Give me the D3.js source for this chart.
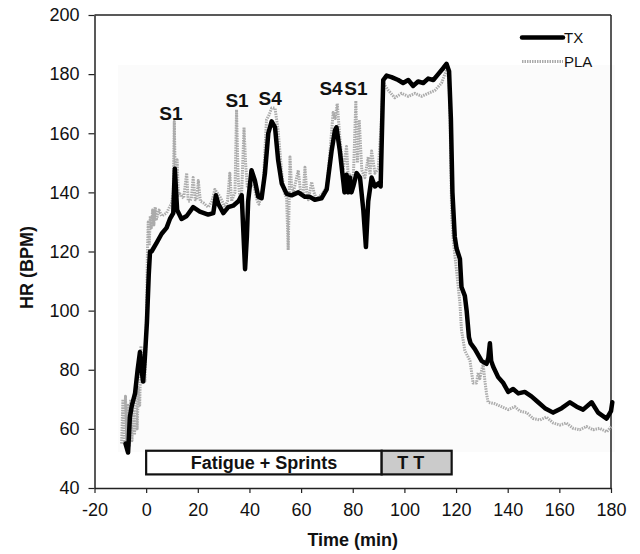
<!DOCTYPE html>
<html>
<head>
<meta charset="utf-8">
<script src="https://cdn.jsdelivr.net/npm/d3@7"></script>
<style>
  html, body { margin: 0; padding: 0; background: #fff; }
  svg { display: block; }
  text { font-family: "Liberation Sans", Arial, sans-serif; fill: #111; }
</style>
</head>
<body>
<svg id="chart" width="640" height="554"></svg>
<script>
// ---------------- DATA ----------------
const txTime = [-8, -7, -6.3, -5.5, -4.3, -3.3, -2.4, -1.8, -1.2, -0.5, 0.3, 1, 1.5, 2.1, 4.1, 6, 7.9, 9.2, 10.5, 11.1, 12, 13.7, 15.7, 18.2, 20.8, 24, 26, 27, 28, 29.9, 31.8, 33.7, 35.7, 37, 38.3, 39, 39.5, 40.8, 42.1, 43.4, 44.7, 46, 47.3, 48.6, 49.9, 51.1, 52.5, 54.4, 56.3, 58.9, 61.5, 63.4, 65.3, 67.9, 69.9, 71.8, 73.1, 73.7, 75, 76.3, 76.8, 77.6, 78.2, 78.9, 79.5, 80.2, 81.5, 82.8, 84.1, 85.1, 86, 87.3, 88.6, 89.9, 90.8, 91.8, 93.1, 95, 97.6, 99.5, 101.5, 103.4, 105.3, 107.3, 109.2, 111.2, 113.1, 115, 116.3, 117.3, 118, 118.6, 119.5, 120.2, 121.5, 122.1, 123.4, 124.1, 125, 125.6, 127.3, 129.9, 131.8, 132.5, 133.1, 133.6, 134.4, 136.3, 138.3, 140.2, 142.1, 144.1, 146.6, 149.2, 151.8, 154.4, 157.6, 160.9, 164.1, 166.7, 169.2, 172.5, 175, 178.3, 180, 180.5];
const txHR = [55, 52, 64, 68, 72, 80, 86, 80, 76, 84, 96, 112, 120, 120, 123, 126, 128, 131, 133, 148, 134, 131, 132, 135, 133.5, 132.5, 133, 139, 136, 133, 135, 135.5, 137, 139, 114, 125, 137, 147.5, 144, 138.5, 138, 146.5, 160, 164, 162, 151, 143, 139.5, 139, 140, 138.5, 138.5, 137.5, 138, 141, 154, 161, 162, 154, 144, 140, 146, 140, 145, 140, 142, 146.5, 145, 134, 121.5, 137, 145, 142, 143, 142, 178, 179.5, 179, 178, 177, 178, 176, 177.5, 177, 178.5, 178, 180, 182, 183.5, 181, 165, 140, 125, 121, 117.5, 108, 105, 100, 91, 89, 87, 83, 82, 84, 89, 83, 81, 77.5, 75.5, 72.5, 73.5, 72, 72.5, 71, 69, 67, 65.5, 67, 69, 67.5, 66.5, 69, 65.5, 63.5, 66, 69];

const plaTime = [-9.5, -9, -8.5, -8, -7.5, -7, -6.5, -6, -5.5, -5, -4.5, -4, -3.5, -3, -2.5, -2, -1.5, -1, -0.5, 0, 0.5, 0.8, 1.2, 1.6, 2, 2.5, 3, 3.5, 4, 5, 6, 7.9, 9.9, 10.5, 10.9, 11.4, 12, 12.5, 13.1, 14.5, 15.7, 16.3, 16.9, 17.5, 18.2, 19, 19.6, 20.2, 21, 22.1, 24, 25.5, 26.6, 28.6, 30.5, 31.5, 32.4, 33.1, 33.7, 34.4, 35, 35.6, 36.3, 37, 37.9, 38.5, 39.2, 40.5, 41.8, 43, 43.7, 45.3, 46.6, 47.5, 48.6, 49.9, 51.1, 52.5, 53.5, 54.4, 55, 55.7, 56.3, 57, 58.9, 59.8, 60.8, 61.5, 62.2, 62.8, 64.1, 65, 66, 68.6, 70, 71.2, 72.4, 73.2, 74, 75, 76.3, 77.6, 78.2, 78.9, 80.2, 81.2, 81.8, 82.5, 83.5, 84.7, 86, 86.7, 87.3, 88.6, 89.9, 90.8, 91.8, 93.8, 96.3, 98.9, 101.5, 104.1, 106.7, 109.2, 111.8, 114.4, 116.3, 117.3, 117.7, 118.3, 118.9, 120.2, 121.5, 122.1, 123.4, 125.4, 126.6, 127.9, 128.6, 129.2, 130.5, 131.2, 131.8, 132.4, 135, 137.6, 140.2, 142.8, 144.7, 147.3, 149.9, 152.4, 155, 157.6, 160.2, 162.7, 165.3, 167.9, 170.5, 173.1, 175.6, 178.3, 180.2];
const plaHR = [55, 70, 56, 71, 55, 68, 54, 70, 56, 66, 58, 72, 60, 74, 68, 88, 78, 82, 76, 92, 120, 130, 122, 132, 128, 134, 129, 135, 131, 134, 132, 133, 136.5, 140, 164, 138, 151, 139, 139.5, 138, 146.5, 137, 137, 138, 145, 137.5, 137.5, 144, 137, 136.5, 135, 137, 141, 138.5, 135, 137, 146.5, 137, 138.5, 140, 168, 145, 138, 140, 162, 150, 141.5, 143, 142, 137, 136, 142, 164.5, 166, 168.5, 168.5, 161, 146.5, 140, 138, 120.5, 152, 142, 140, 147.5, 140, 139.5, 148.5, 140, 137.5, 143.5, 140, 137.5, 140, 142, 154, 167, 165, 170, 158.5, 147.5, 155.5, 146, 146, 144, 171, 150, 164.5, 147.5, 145, 152, 146, 154, 146.5, 148, 160, 177, 174.5, 172, 173.5, 172.5, 173.5, 172.5, 173.5, 174.5, 177, 181.5, 178, 164, 132, 124, 113.5, 102.5, 93.5, 86.5, 83, 75.5, 75.5, 79, 77, 82, 76, 72, 69, 68.5, 67.5, 66.5, 67.5, 66, 65.5, 63.5, 63, 64, 62, 61.3, 62, 60.2, 59.7, 60.8, 59.7, 60.2, 59, 60.8];

const yTicks = [40, 60, 80, 100, 120, 140, 160, 180, 200];
const xTicks = [-20, 0, 20, 40, 60, 80, 100, 120, 140, 160, 180];

const annoLabels = ["S1", "S1", "S4", "S4", "S1"];
const annoTime = [9.6, 35.2, 48.0, 71.6, 81.2];
const annoHR = [164.5, 169.0, 169.6, 173.0, 173.0];

const phaseLabels = ["Fatigue + Sprints", "T T"];
const phaseStart = [0, 91.2];
const phaseEnd = [91.2, 118.3];
const phaseFill = ["#ffffff", "#cbcbcb"];
const phaseTop = 52.6, phaseBottom = 44.6;

const legendLabels = ["TX", "PLA"];

// ---------------- LAYOUT ----------------
const svg = d3.select("#chart");
const L = 94.5, R = 611, T = 15, B = 488;
const x = d3.scaleLinear().domain([-20, 180]).range([L, R]);
const y = d3.scaleLinear().domain([40, 200]).range([B, T]);

// faint scanned background panel
svg.append("rect").attr("x", 118).attr("y", 65).attr("width", 497).attr("height", 387)
  .attr("fill", "#fbfbfb");

// frame
svg.append("line").attr("x1", L).attr("x2", R).attr("y1", T).attr("y2", T)
  .attr("stroke", "#222").attr("stroke-width", 1.5);
svg.append("line").attr("x1", R).attr("x2", R).attr("y1", T).attr("y2", B)
  .attr("stroke", "#222").attr("stroke-width", 1.5);

// axes
const fmt = d => String(d);
const yAxis = d3.axisLeft(y).tickValues(yTicks).tickFormat(fmt).tickSize(6).tickPadding(9).tickSizeOuter(0);
const gy = svg.append("g").attr("transform", `translate(${L},0)`).call(yAxis);
const xAxis = d3.axisBottom(x).tickValues(xTicks).tickFormat(fmt).tickSize(5).tickPadding(10).tickSizeOuter(0);
const gx = svg.append("g").attr("transform", `translate(0,${B})`).call(xAxis);
[gx, gy].forEach(g => {
  g.select(".domain").attr("stroke", "#222").attr("stroke-width", 1.5);
  g.selectAll(".tick line").attr("stroke", "#222").attr("stroke-width", 1.2);
  g.selectAll(".tick text").attr("font-size", 18)
    .attr("font-family", '"Liberation Sans", Arial, sans-serif').attr("fill", "#111");
});

// axis titles
svg.append("text").attr("x", x(80)).attr("y", 546).attr("text-anchor", "middle")
  .attr("font-size", 18).attr("font-weight", "bold").text("Time (min)");
svg.append("text").attr("transform", `translate(33,${(T + B) / 2 + 16}) rotate(-90)`)
  .attr("text-anchor", "middle").attr("font-size", 18).attr("font-weight", "bold").text("HR (BPM)");

// series
const line = d3.line().x(d => x(d[0])).y(d => y(d[1]));
const plaData = plaTime.map((t, i) => [t, plaHR[i]]);
const txData = txTime.map((t, i) => [t, txHR[i]]);

svg.append("path").datum(plaData).attr("d", line).attr("fill", "none")
  .attr("stroke", "#ababab").attr("stroke-width", 3).attr("stroke-dasharray", "1.5,1")
  .attr("stroke-linejoin", "round");
svg.append("path").datum(txData).attr("d", line).attr("fill", "none")
  .attr("stroke", "#000").attr("stroke-width", 4.5).attr("stroke-linejoin", "round")
  .attr("stroke-linecap", "round");

// annotations
svg.selectAll(".anno").data(annoLabels).enter().append("text")
  .attr("x", (d, i) => x(annoTime[i])).attr("y", (d, i) => y(annoHR[i]))
  .attr("text-anchor", "middle").attr("font-size", 19).attr("font-weight", "bold").text(d => d);

// phase boxes
phaseLabels.forEach((lab, i) => {
  svg.append("rect").attr("x", x(phaseStart[i])).attr("y", y(phaseTop))
    .attr("width", x(phaseEnd[i]) - x(phaseStart[i])).attr("height", y(phaseBottom) - y(phaseTop))
    .attr("fill", phaseFill[i]).attr("stroke", "#111").attr("stroke-width", 2.2);
  const cx = (x(phaseStart[i]) + x(phaseEnd[i])) / 2 - (i === 1 ? 6 : 0);
  svg.append("text").attr("x", cx).attr("y", y(phaseBottom) - 5.5)
    .attr("text-anchor", "middle").attr("font-size", 18).attr("font-weight", "bold").text(lab);
});

// legend
const legY = [37.5, 61.5];
legendLabels.forEach((lab, i) => {
  const ln = svg.append("line").attr("x1", 522).attr("x2", 563).attr("y1", legY[i]).attr("y2", legY[i]);
  if (i === 0) ln.attr("stroke", "#000").attr("stroke-width", 4.5).attr("stroke-linecap", "round");
  else ln.attr("stroke", "#ababab").attr("stroke-width", 3).attr("stroke-dasharray", "1.5,1");
  svg.append("text").attr("x", 564).attr("y", legY[i] + 5.5).attr("font-size", 15).text(lab);
});
</script>
</body>
</html>
